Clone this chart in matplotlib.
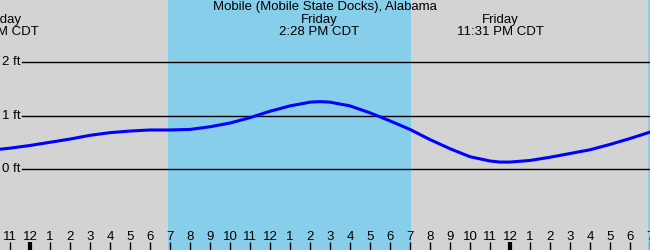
# Tide chart: Mobile (Mobile State Docks), Alabama
import matplotlib.pyplot as plt

plt.rcParams['font.family'] = ['Liberation Sans', 'DejaVu Sans']

# hours since Friday midnight, tide height in ft
horas = [-1.5, -1, 0, 1, 2, 3, 4, 5, 6, 7, 8, 9, 10, 11, 12, 13, 14, 14.5, 15, 16,
         17, 18, 19, 20, 21, 22, 23, 23.5, 24, 25, 26, 27, 28, 29, 30, 31]
altura = [0.37, 0.39, 0.44, 0.50, 0.56, 0.63, 0.68, 0.71, 0.73, 0.73, 0.74, 0.79,
          0.86, 0.96, 1.08, 1.18, 1.25, 1.26, 1.25, 1.18, 1.05, 0.90, 0.74, 0.55,
          0.38, 0.23, 0.15, 0.13, 0.13, 0.16, 0.22, 0.29, 0.36, 0.46, 0.57, 0.69]

# daylight spans (sunrise, sunset)
luz = [(6.9, 19.05), (30.9, 32)]

# tide events: hour, day, time
eventos_h = [-1.78, 14.47, 23.52]
eventos_dia = ['Thursday', 'Friday', 'Friday']
eventos_hora = ['10:13 PM CDT', '2:28 PM CDT', '11:31 PM CDT']

niveles = [0, 1, 2]
ticks = list(range(-1, 32))
etiquetas = [str(h % 12 or 12) for h in ticks]

fig = plt.figure(figsize=(6.5, 2.5), dpi=100)
ax = fig.add_axes([0, 0, 1, 1])
ax.set_facecolor('#d3d3d3')
ax.set_xlim(-1.5, 31)
ax.set_ylim(-1.514, 3.16)

for a, b in luz:
    ax.axvspan(a, b, color='#87ceeb', lw=0)

for n in niveles:
    ax.axhline(n, xmin=22 / 650, color='black', lw=1)
    ax.text(-0.45, n, f'{n} ft', ha='right', va='center', fontsize=9.5)

ax.plot(horas, altura, color='#0000ff', lw=2.2)

ax.text(14.75, 3.03, 'Mobile (Mobile State Docks), Alabama', ha='center', va='center', fontsize=9.5)
for h, d, t in zip(eventos_h, eventos_dia, eventos_hora):
    ax.text(h, 2.79, d, ha='center', va='center', fontsize=9.5)
    ax.text(h, 2.57, t, ha='center', va='center', fontsize=9.5)

ax.set_xticks(ticks)
ax.set_xticklabels(etiquetas, fontsize=9.5)
ax.tick_params(axis='x', direction='in', length=6, width=1, pad=-14)
for h, linea in zip(ticks, ax.get_xticklines()[::2]):
    if h % 24 == 0:
        linea.set_markeredgewidth(3)
ax.set_yticks([])
for s in ax.spines.values():
    s.set_visible(False)

plt.savefig('out.png', dpi=100)
